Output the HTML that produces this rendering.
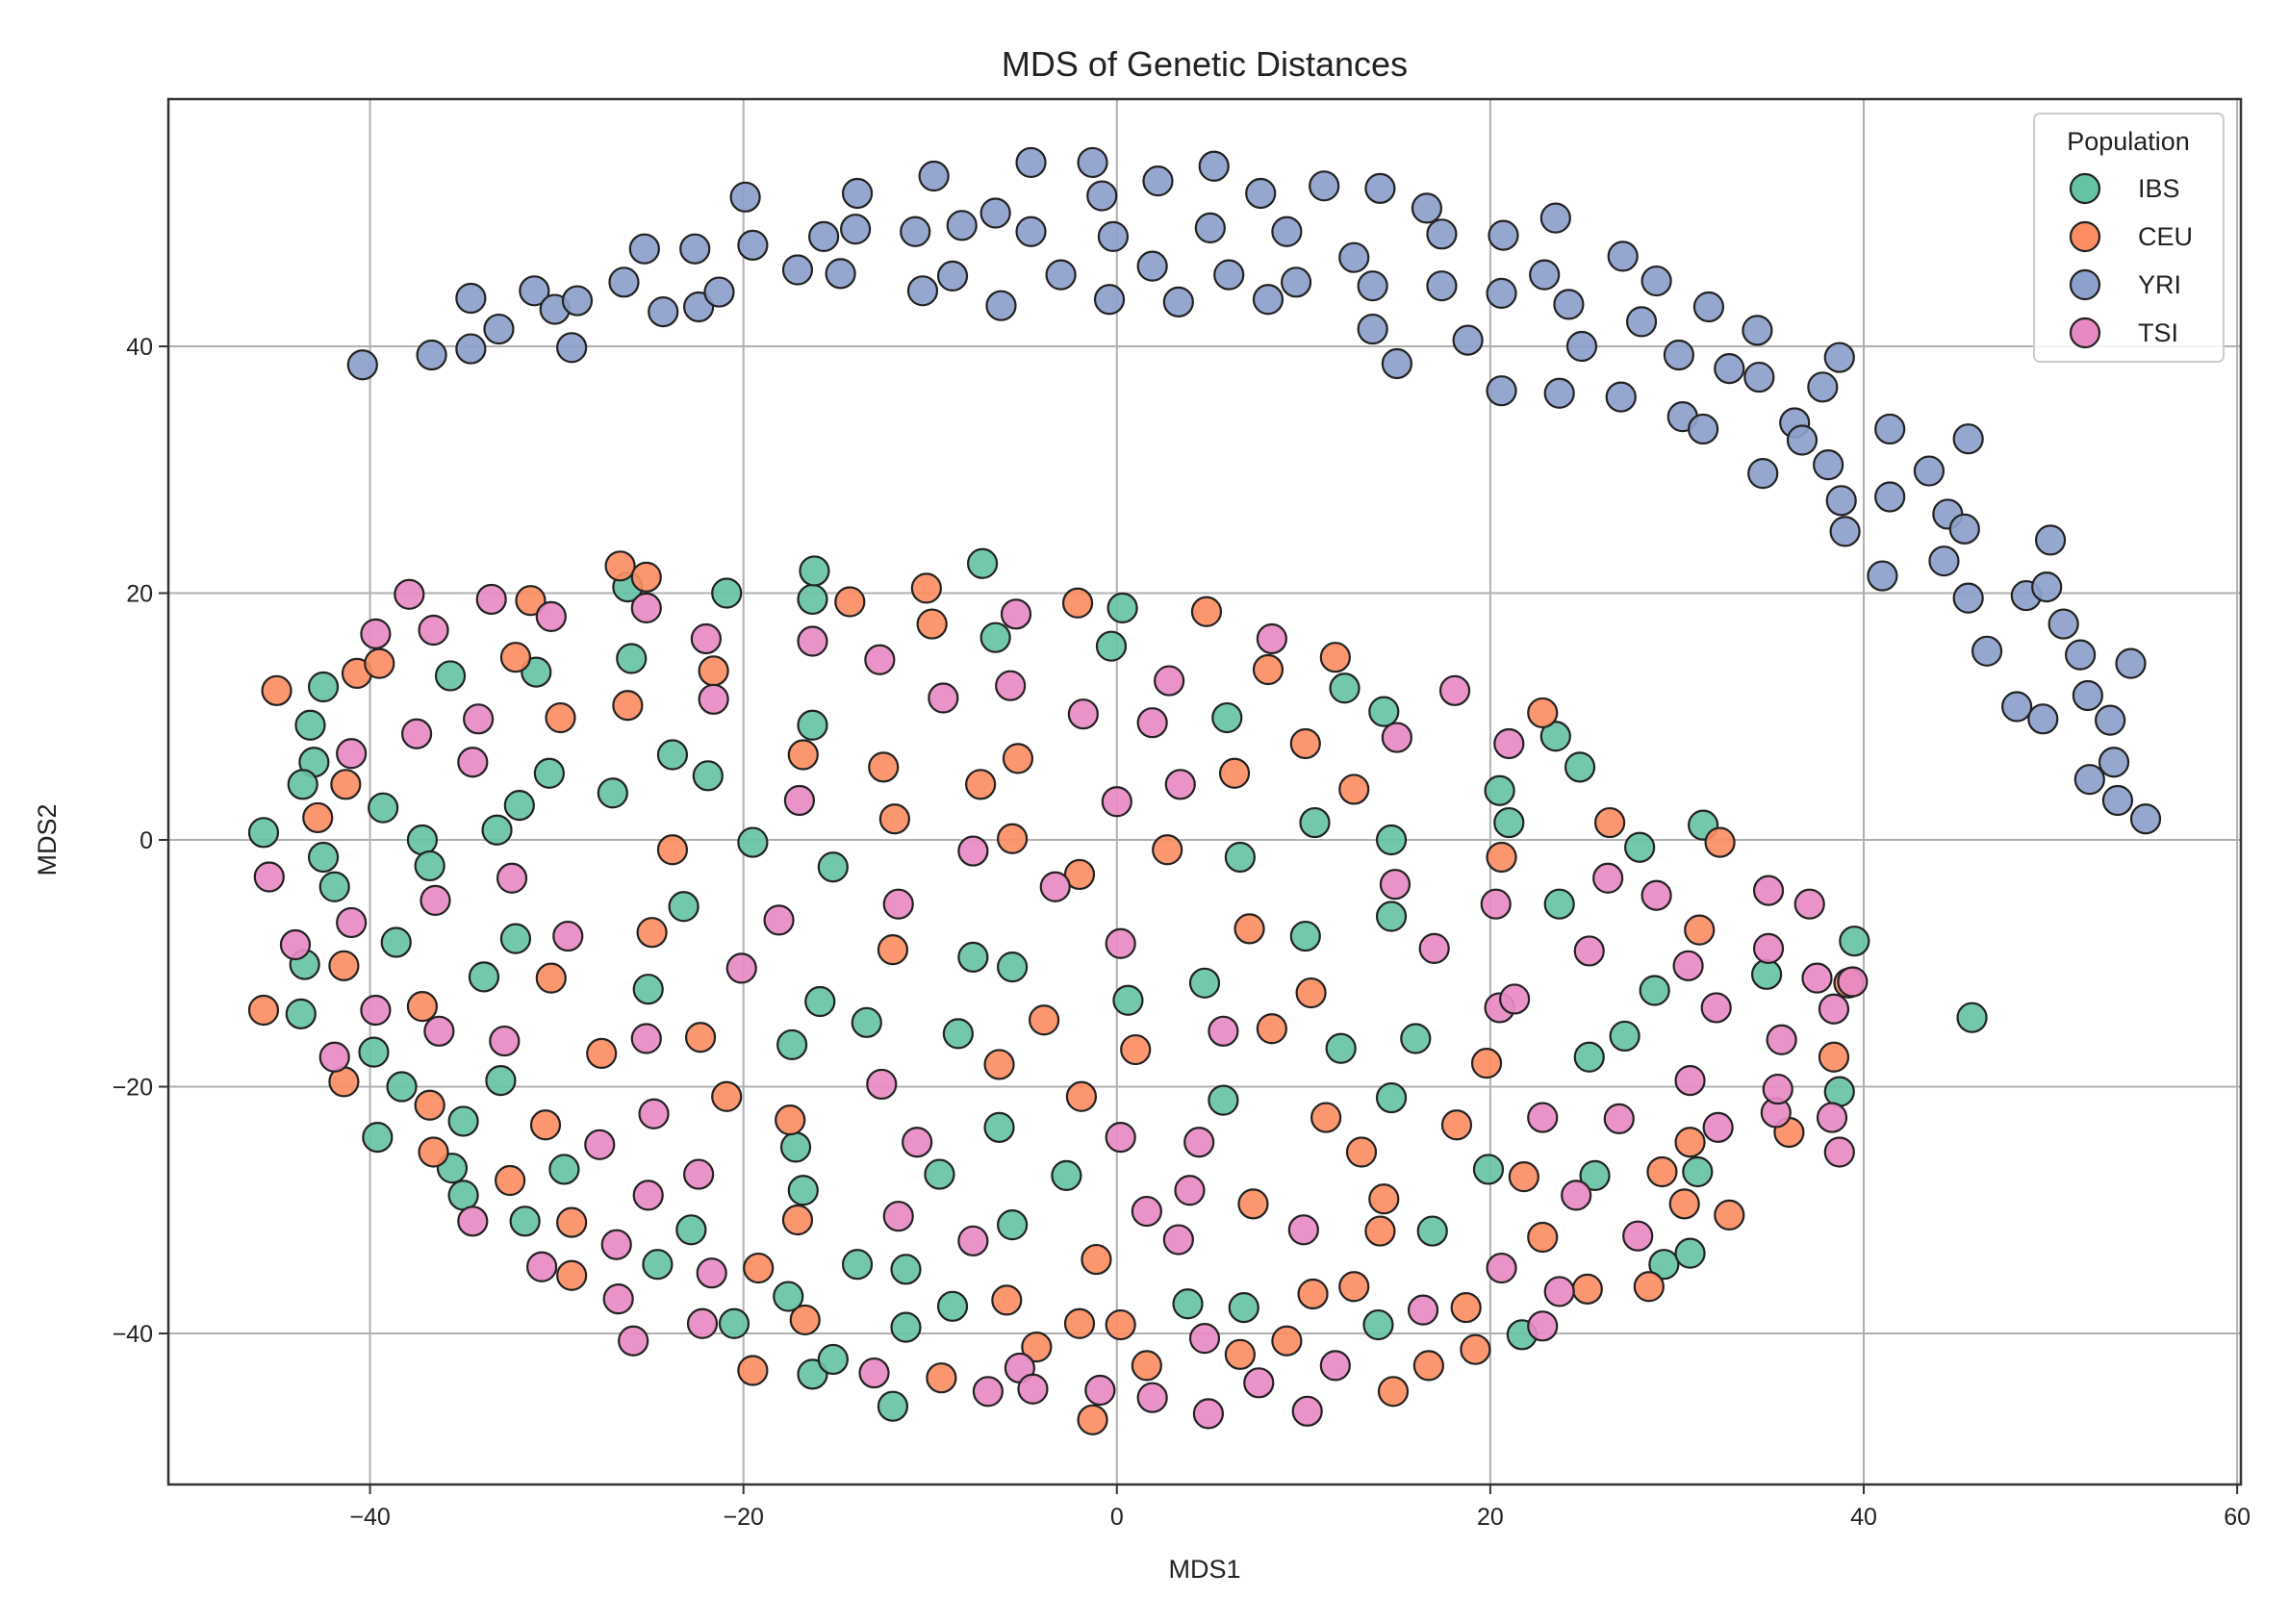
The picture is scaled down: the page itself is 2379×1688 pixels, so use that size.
<!DOCTYPE html>
<html><head><meta charset="utf-8"><style>
html,body{margin:0;padding:0;background:#fff;}
svg{display:block;font-family:"Liberation Sans","DejaVu Sans",sans-serif;}
</style></head><body>
<svg id="chart" width="2379" height="1688" viewBox="0 0 2379 1688" xmlns="http://www.w3.org/2000/svg">
<rect width="2379" height="1688" fill="#fff"/>
<text x="1252" y="79" font-size="36" text-anchor="middle" fill="#222">MDS of Genetic Distances</text>
<g id="grid"></g>
<g id="points"></g>
<rect x="175" y="103" width="2154" height="1440" fill="none" stroke="#333" stroke-width="2.5"/>
<g id="ticks"></g>
<text x="1252" y="1640" font-size="27" text-anchor="middle" fill="#222">MDS1</text>
<text transform="translate(58,873) rotate(-90)" font-size="27" text-anchor="middle" fill="#222">MDS2</text>
<g id="legend"></g>
</svg>
<script>
const xTicks=[-40,-20,0,20,40,60];
const yTicks=[-40,-20,0,20,40];
const categories=["IBS","CEU","YRI","TSI"];
const colors=["#66c2a5","#fc8d62","#8da0cb","#e78ac3"];
const ibsX=[-45.7,-43.2,-42.5,-43.0,-43.6,-42.5,-41.9,-43.5,-43.7,-39.3,-37.2,-36.8,-38.6,-39.8,-38.3,-39.6,-35.7,-33.2,-32.0,-31.1,-30.4,-32.2,-33.9,-33.0,-35.0,-35.6,-35.0,-31.7,-29.6,-27.0,-26.0,-26.2,-25.1,-24.6,-23.8,-23.2,-22.8,-21.9,-20.9,-20.5,-19.5,-17.4,-17.2,-16.8,-17.6,-16.3,-16.3,-16.2,-15.9,-15.2,-16.3,-15.2,-13.9,-13.4,-12.0,-11.3,-11.3,-9.5,-8.8,-8.5,-7.7,-7.2,-6.5,-6.3,-5.6,-5.6,-2.7,-0.3,0.3,0.6,3.8,4.7,5.7,5.9,6.6,6.8,10.1,10.6,12.0,12.2,14.3,14.7,14.7,14.7,14.0,16.0,16.9,19.9,20.5,21.0,21.7,23.5,23.7,24.8,25.3,25.6,27.2,28.0,28.8,29.3,30.7,31.1,31.4,34.8,38.7,39.5,45.8];
const ibsY=[0.6,9.3,12.4,6.3,4.5,-1.4,-3.8,-10.1,-14.1,2.6,0,-2.1,-8.3,-17.2,-20,-24.1,13.3,0.8,2.8,13.6,5.4,-8.0,-11.1,-19.5,-22.8,-26.6,-28.8,-30.9,-26.7,3.8,14.7,20.5,-12.1,-34.4,6.9,-5.4,-31.6,5.2,20.0,-39.2,-0.2,-16.6,-24.9,-28.4,-37.0,9.3,19.5,21.8,-13.1,-2.2,-43.3,-42.1,-34.4,-14.8,-45.9,-34.8,-39.5,-27.1,-37.8,-15.7,-9.5,22.4,16.4,-23.3,-10.3,-31.2,-27.2,15.7,18.8,-13.0,-37.6,-11.6,-21.1,9.9,-1.4,-37.9,-7.8,1.4,-16.9,12.3,10.4,0,-6.2,-20.9,-39.3,-16.1,-31.7,-26.7,4.0,1.4,-40.1,8.4,-5.2,5.9,-17.6,-27.2,-15.9,-0.6,-12.2,-34.4,-33.5,-26.9,1.2,-10.9,-20.4,-8.2,-14.4];
const ceuX=[-45.0,-45.7,-42.8,-41.3,-41.4,-41.4,-40.7,-39.5,-37.2,-36.8,-36.6,-32.5,-32.2,-31.4,-30.6,-30.3,-29.8,-29.2,-29.2,-27.6,-26.6,-26.2,-25.2,-24.9,-23.8,-22.3,-21.6,-20.9,-19.5,-19.2,-17.5,-17.1,-16.8,-16.7,-14.3,-12.5,-11.9,-12.0,-10.2,-9.9,-9.4,-7.3,-6.3,-5.9,-5.6,-5.3,-4.3,-3.9,-2.1,-2.0,-1.9,-2.0,-1.3,-1.1,0.2,1.0,1.6,2.7,4.8,6.3,6.6,7.1,7.3,8.1,8.3,9.1,10.1,10.4,10.5,11.2,11.7,12.7,12.7,13.1,14.1,14.3,14.8,16.7,18.2,18.7,19.2,19.8,20.6,21.8,22.8,22.8,25.2,26.4,29.2,28.5,30.4,30.7,31.2,32.3,32.8,36.0,38.4,39.2];
const ceuY=[12.1,-13.8,1.8,4.5,-10.2,-19.6,13.5,14.3,-13.5,-21.5,-25.3,-27.6,14.8,19.4,-23.1,-11.2,9.9,-31.0,-35.3,-17.3,22.2,10.9,21.3,-7.5,-0.8,-16.0,13.7,-20.8,-43.0,-34.7,-22.7,-30.8,6.9,-38.9,19.3,5.9,1.7,-8.9,20.4,17.5,-43.6,4.5,-18.2,-37.3,0.1,6.6,-41.1,-14.6,19.2,-2.8,-20.8,-39.2,-47.0,-34.0,-39.3,-17.0,-42.6,-0.8,18.5,5.4,-41.7,-7.2,-29.5,13.8,-15.3,-40.6,7.8,-12.4,-36.8,-22.5,14.8,4.1,-36.2,-25.3,-31.7,-29.1,-44.7,-42.6,-23.1,-37.9,-41.3,-18.1,-1.4,-27.3,10.3,-32.2,-36.4,1.4,-26.9,-36.2,-29.5,-24.5,-7.3,-0.2,-30.4,-23.7,-17.6,-11.6];
const yriX=[-40.4,-36.7,-34.6,-34.6,-33.1,-31.2,-30.1,-28.9,-29.2,-26.4,-25.3,-24.3,-22.6,-22.4,-21.3,-19.9,-19.5,-17.1,-15.7,-14.8,-13.9,-14.0,-10.8,-10.4,-9.8,-8.8,-8.3,-6.5,-6.2,-4.6,-4.6,-3.0,-1.3,-0.8,-0.4,-0.2,1.9,2.2,3.3,5.2,5.0,6.0,7.7,8.1,9.1,9.6,11.1,12.7,13.7,13.7,14.1,15.0,16.6,17.4,17.4,18.8,20.7,20.6,20.6,22.9,23.5,23.7,24.2,24.9,27.1,27.0,28.1,28.9,30.1,30.3,31.4,31.7,32.8,34.3,34.4,34.6,36.3,36.7,37.8,38.7,38.1,38.8,39.0,41.4,41.4,41.0,43.5,44.5,44.3,45.6,45.4,45.6,46.6,48.2,48.7,49.6,49.8,50.0,50.7,51.6,52.0,52.1,53.2,53.4,53.6,54.3,55.1];
const yriY=[38.5,39.3,39.8,43.9,41.4,44.5,43.0,43.7,39.9,45.2,47.9,42.8,47.9,43.2,44.4,52.1,48.2,46.2,48.9,45.9,52.4,49.5,49.3,44.5,53.8,45.7,49.8,50.8,43.3,49.3,54.9,45.8,54.9,52.2,43.8,48.9,46.5,53.4,43.6,54.6,49.6,45.8,52.4,43.8,49.3,45.2,53.0,47.2,41.4,44.9,52.8,38.6,51.2,49.1,44.9,40.5,49.0,44.3,36.4,45.8,50.4,36.2,43.4,40.0,47.3,35.9,42.0,45.3,39.3,34.3,33.3,43.2,38.2,41.3,37.5,29.7,33.8,32.4,36.7,39.1,30.4,27.5,25.0,33.3,27.8,21.4,29.9,26.4,22.6,32.5,25.2,19.6,15.3,10.8,19.8,9.8,20.5,24.3,17.5,15.0,11.7,4.9,9.7,6.3,3.2,14.3,1.7];
const tsiX=[-45.4,-44.0,-41.9,-41.0,-41.0,-39.7,-39.7,-37.9,-37.5,-36.6,-36.5,-36.3,-34.5,-34.5,-34.2,-33.5,-32.8,-32.4,-30.8,-30.3,-29.4,-27.7,-26.8,-26.7,-25.9,-25.2,-25.2,-25.1,-24.8,-22.4,-22.0,-21.6,-21.7,-22.2,-20.1,-18.1,-17.0,-16.3,-13.0,-12.7,-12.6,-11.7,-11.7,-10.7,-9.3,-7.7,-7.7,-6.9,-5.7,-5.4,-5.2,-4.5,-3.3,-1.8,-0.9,0,0.2,0.2,1.6,1.9,1.9,2.8,3.4,3.3,3.9,4.4,4.7,4.9,5.7,7.6,8.3,10.0,10.2,11.7,15.0,14.9,16.4,17.0,18.1,20.3,20.5,20.6,21.0,21.3,22.8,22.8,23.7,24.6,25.3,26.3,26.9,27.9,28.9,30.6,30.7,32.1,32.2,34.9,34.9,35.3,35.4,35.6,37.1,37.5,38.4,38.3,38.7,39.4];
const tsiY=[-3.0,-8.5,-17.6,7.0,-6.7,16.7,-13.8,19.9,8.6,17.0,-4.9,-15.5,6.3,-30.9,9.8,19.5,-16.3,-3.1,-34.6,18.1,-7.8,-24.7,-32.8,-37.2,-40.6,18.8,-16.1,-28.8,-22.2,-27.1,16.3,11.4,-35.1,-39.2,-10.4,-6.5,3.2,16.1,-43.2,14.6,-19.8,-5.2,-30.5,-24.5,11.5,-0.9,-32.5,-44.7,12.5,18.3,-42.8,-44.5,-3.8,10.2,-44.6,3.1,-8.4,-24.1,-30.1,9.5,-45.2,12.9,4.5,-32.4,-28.4,-24.5,-40.4,-46.5,-15.5,-44.0,16.3,-31.6,-46.3,-42.6,8.3,-3.6,-38.1,-8.8,12.1,-5.2,-13.6,-34.7,7.8,-12.9,-22.5,-39.4,-36.6,-28.8,-9.0,-3.1,-22.6,-32.1,-4.5,-10.2,-19.5,-13.6,-23.3,-4.1,-8.8,-22.1,-20.2,-16.2,-5.2,-11.2,-13.7,-22.5,-25.3,-11.5];

const L=175,R=2329,T=103,B=1543;
const xMin=-50.8,xMax=60.2,yMin=-52.24,yMax=60.04;
const sx=v=>L+(v-xMin)/(xMax-xMin)*(R-L);
const sy=v=>B-(v-yMin)/(yMax-yMin)*(B-T);
const NS="http://www.w3.org/2000/svg";
function mk(tag,attrs,parent){const e=document.createElementNS(NS,tag);for(const k in attrs)e.setAttribute(k,attrs[k]);parent.appendChild(e);return e;}
const grid=document.getElementById('grid'),ticks=document.getElementById('ticks'),pts=document.getElementById('points'),leg=document.getElementById('legend');
xTicks.forEach(t=>{const x=sx(t);
 if(x<R-2){const g=mk('line',{x1:x,x2:x,y1:T,y2:B,stroke:'#b0b0b0','stroke-width':2},grid);}
 const tk=mk('line',{x1:x,x2:x,y1:B,y2:B+10,stroke:'#333','stroke-width':2},ticks);
 const tx=mk('text',{x:x,y:B+42,'font-size':25,'text-anchor':'middle',fill:'#222'},ticks);tx.textContent=(t<0?'\u2212'+(-t):t);
 });
yTicks.forEach(t=>{const y=sy(t);
 const g=mk('line',{x1:L,x2:R,y1:y,y2:y,stroke:'#b0b0b0','stroke-width':2},grid);
 const tk=mk('line',{x1:L-10,x2:L,y1:y,y2:y,stroke:'#333','stroke-width':2},ticks);
 const tx=mk('text',{x:L-16,y:y+9,'font-size':25,'text-anchor':'end',fill:'#222'},ticks);tx.textContent=(t<0?'\u2212'+(-t):t);
 });
const series=[[ibsX,ibsY],[ceuX,ceuY],[yriX,yriY],[tsiX,tsiY]];
series.forEach((s,i)=>{s[0].forEach((v,j)=>{
 const c=mk('circle',{cx:sx(v),cy:sy(s[1][j]),r:15,fill:colors[i],'fill-opacity':0.92,stroke:'#222','stroke-width':2.2},pts);
 
 });});
const lb=mk('rect',{x:2114,y:118,width:197,height:258,rx:6,fill:'#fff','fill-opacity':0.85,stroke:'#ccc','stroke-width':2},leg);

const lt=mk('text',{x:2212,y:156,'font-size':27,'text-anchor':'middle',fill:'#222'},leg);lt.textContent='Population';

categories.forEach((c,i)=>{const y=196+i*50;
 const g=mk('g',{},leg);
 mk('circle',{cx:2167,cy:y,r:15,fill:colors[i],stroke:'#222','stroke-width':2.2},g);
 const t=mk('text',{x:2222,y:y+9,'font-size':27,fill:'#222'},g);t.textContent=c;});
</script>
</body></html>
